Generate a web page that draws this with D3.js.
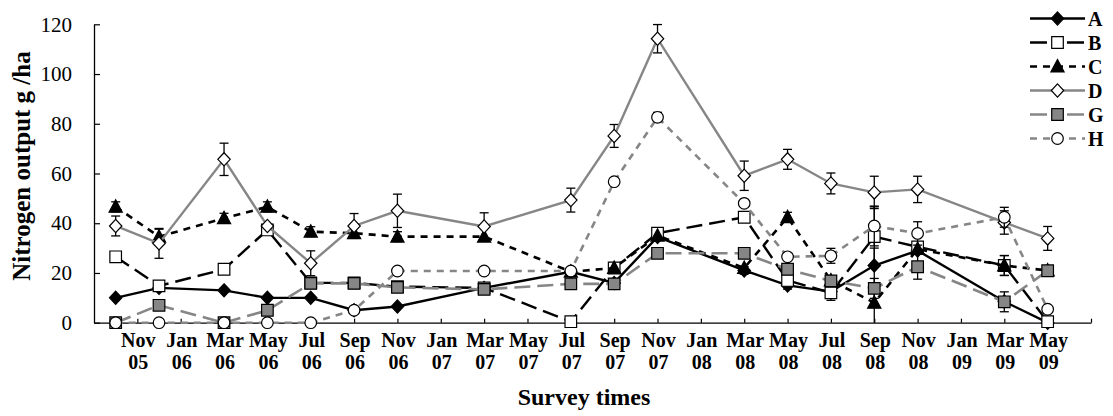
<!DOCTYPE html>
<html>
<head>
<meta charset="utf-8">
<script src="https://cdn.jsdelivr.net/npm/d3@7"></script>
<style>
  html, body { margin: 0; padding: 0; background: #fff; }
  svg { display: block; }
  text { font-family: "Liberation Serif", "Times New Roman", serif; fill: #000; }
</style>
</head>
<body>
<svg id="chart" width="1113" height="416"></svg>
<script>
// Survey dates (year-month) at which nitrogen output was measured
const surveyDates = ["2005-10", "2005-12", "2006-03", "2006-05", "2006-07", "2006-09",
  "2006-11", "2007-03", "2007-07", "2007-09", "2007-11", "2008-03", "2008-05",
  "2008-07", "2008-09", "2008-11", "2009-03", "2009-05"];

// Axis tick labels (every second month)
const tickMonths = ["Nov", "Jan", "Mar", "May", "Jul", "Sep", "Nov", "Jan", "Mar", "May", "Jul",
  "Sep", "Nov", "Jan", "Mar", "May", "Jul", "Sep", "Nov", "Jan", "Mar", "May"];
const tickYears = ["05", "06", "06", "06", "06", "06", "06", "07", "07", "07", "07",
  "07", "07", "08", "08", "08", "08", "08", "08", "09", "09", "09"];
const yTicks = [0, 20, 40, 60, 80, 100, 120];

const seriesNames = ["A", "B", "C", "D", "G", "H"];

// Nitrogen output (g/ha) per site and survey
const valuesA = [10, 14, 13, 10, 10, 5, 6.5, 14, 20.5, 16, 34.5, 21, 15, 12.5, 23, 29, 8.5, 0];
const valuesB = [26.5, 14.8, 21.5, 37.3, 16, 16, 14.5, 14, 0.4, 22, 36, 42.4, 17, 12, 34.6, 30.5, 23, 0.4];
const valuesC = [46.6, 34.6, 42, 46.6, 36.6, 36, 34.6, 34.6, 20.5, 22, 35, 22, 42.4, 17, 8, 29.6, 23, 21];
const valuesD = [38.9, 31.9, 65.7, 38.9, 23.9, 38.9, 45, 38.7, 49.3, 75.1, 114.2, 59.1, 65.7, 56, 52.4, 53.6, 40.3, 33.9];
const valuesG = [0, 7, 0, 5, 15.8, 15.8, 14.2, 13.4, 15.6, 15.6, 27.9, 27.9, 21.5, 16.8, 13.8, 22.5, 8.4, 20.9];
const valuesH = [0, 0, 0, 0, 0, 5, 20.8, 20.8, 20.8, 56.7, 82.6, 48, 26.5, 26.9, 38.9, 35.9, 42.4, 5.4];

// Standard errors
const errA = [0, 0, 0, 0, 0, 0, 0, 0, 0, 1.5, 0, 1.5, 1.5, 2, 7, 0, 0, 0];
const errB = [0, 0, 0, 0, 0, 0, 0, 0, 0, 2, 1.5, 0, 0, 3, 12, 0, 4, 0];
const errC = [2, 3, 2, 2, 2, 0, 2, 0, 0, 0, 0, 0, 2, 0, 8, 0, 4, 0];
const errD = [4, 6, 6.5, 0, 5, 5, 6.7, 5.5, 4.8, 4.6, 5.7, 5.9, 4, 4.2, 6.5, 5.3, 4.7, 4.8];
const errG = [0, 0, 0, 0, 2, 0, 2, 2, 0, 0, 0, 0, 0, 0, 4, 5, 4, 1.5];
const errH = [0, 0, 0, 0, 0, 0, 0, 0, 0, 0, 2, 0, 0, 3, 8, 4.7, 4, 0];

const seriesValues = [valuesA, valuesB, valuesC, valuesD, valuesG, valuesH];
const seriesErrors = [errA, errB, errC, errD, errG, errH];

// ---- drawing ----
const GREY = "#868686";
const styles = {
  A: { stroke: "#000", width: 2.4, dash: null, marker: "diamond", fill: "#000" },
  B: { stroke: "#000", width: 2.4, dash: "16,7", marker: "square", fill: "#fff" },
  C: { stroke: "#000", width: 2.6, dash: "7,6", marker: "triangle", fill: "#000" },
  D: { stroke: GREY, width: 2.4, dash: null, marker: "diamond", fill: "#fff" },
  G: { stroke: GREY, width: 2.6, dash: "16,7", marker: "square", fill: GREY },
  H: { stroke: GREY, width: 2.6, dash: "7,6", marker: "circle", fill: "#fff" }
};

// months counted from Sep 2005, where the axis starts
function monthIndex(s) {
  const [yr, m] = s.split("-").map(Number);
  return (yr - 2005) * 12 + (m - 9);
}

const svg = d3.select("#chart");
const x = d3.scaleLinear().domain([0, 46]).range([94, 1091]);
const y = d3.scaleLinear().domain([0, 120]).range([322.7, 24.3]);

function markerPath(kind) {
  switch (kind) {
    case "diamond": return "M0,-6.6L6.2,0L0,6.6L-6.2,0Z";
    case "square": return "M-5.8,-5.8H5.8V5.8H-5.8Z";
    case "triangle": return "M0,-7L6.6,5.4H-6.6Z";
    case "circle": return d3.arc()({ innerRadius: 0, outerRadius: 5.8, startAngle: 0, endAngle: 2 * Math.PI });
  }
}

// y axis (ticks point inward)
const yAxis = d3.axisLeft(y).tickValues(yTicks).tickSizeInner(-6).tickSizeOuter(0).tickPadding(22);
const gy = svg.append("g").attr("transform", `translate(${x(0)},0)`).call(yAxis);
gy.select(".domain").attr("stroke", "#000").attr("stroke-width", 1.3);
gy.selectAll(".tick line").attr("stroke", "#000").attr("stroke-width", 1.2);
gy.selectAll(".tick text").attr("font-size", 21).attr("font-family", "Liberation Serif").attr("fill", "#000");

// x axis: one tick every second month, labels month / year
const tickVals = d3.range(2, 47, 2);
const xAxis = d3.axisBottom(x).tickValues(tickVals).tickSizeInner(-4).tickSizeOuter(0)
  .tickFormat(() => "");
const gx = svg.append("g").attr("transform", `translate(0,${y(0)})`).call(xAxis);
gx.select(".domain").attr("stroke", "#000").attr("stroke-width", 1.3);
gx.selectAll(".tick line").attr("stroke", "#000").attr("stroke-width", 1.2);
gx.selectAll(".tick text").remove();
const labelG = svg.append("g").attr("font-weight", "bold").attr("font-size", 20).attr("text-anchor", "middle");
tickMonths.forEach((m, i) => {
  const t = labelG.append("text");
  t.append("tspan").attr("x", x(tickVals[i]) + 1).attr("y", 347).text(m);
  t.append("tspan").attr("x", x(tickVals[i]) + 1).attr("y", 369).text(tickYears[i]);
});

// axis titles
svg.append("text").attr("x", 584).attr("y", 405).attr("text-anchor", "middle")
  .attr("font-weight", "bold").attr("font-size", 24).text("Survey times");
svg.append("text").attr("transform", "translate(30,166) rotate(-90)").attr("text-anchor", "middle")
  .attr("font-weight", "bold").attr("font-size", 25).text("Nitrogen output g /ha");

// series
const line = d3.line().x(d => x(d.m)).y(d => y(d.v));
seriesNames.forEach((name, si) => {
  const st = styles[name];
  const pts = surveyDates.map((d, i) => ({ m: monthIndex(d), v: seriesValues[si][i], e: seriesErrors[si][i] }));
  const g = svg.append("g").attr("class", "series-" + name);

  // error bars
  const eb = g.selectAll(".err").data(pts.filter(p => p.e > 0)).join("g").attr("class", "err")
    .attr("stroke", "#000").attr("stroke-width", 1.3);
  eb.append("line").attr("x1", p => x(p.m)).attr("x2", p => x(p.m))
    .attr("y1", p => y(p.v + p.e)).attr("y2", p => y(Math.max(0, p.v - p.e)));
  eb.append("line").attr("x1", p => x(p.m) - 4.5).attr("x2", p => x(p.m) + 4.5)
    .attr("y1", p => y(p.v + p.e)).attr("y2", p => y(p.v + p.e));
  eb.filter(p => p.v - p.e > 0).append("line").attr("x1", p => x(p.m) - 4.5).attr("x2", p => x(p.m) + 4.5)
    .attr("y1", p => y(p.v - p.e)).attr("y2", p => y(p.v - p.e));

  g.append("path").datum(pts).attr("d", line).attr("fill", "none")
    .attr("stroke", st.stroke).attr("stroke-width", st.width)
    .attr("stroke-dasharray", st.dash);

  g.selectAll(".mk").data(pts).join("path").attr("class", "mk")
    .attr("transform", p => `translate(${x(p.m)},${y(p.v)})`)
    .attr("d", markerPath(st.marker)).attr("fill", st.fill)
    .attr("stroke", "#000").attr("stroke-width", 1.2);
});

// legend
const legend = svg.append("g");
seriesNames.forEach((name, i) => {
  const st = styles[name];
  const ly = 18.5 + i * 24;
  legend.append("line").attr("x1", 1030).attr("x2", 1085).attr("y1", ly).attr("y2", ly)
    .attr("stroke", st.stroke).attr("stroke-width", st.width)
    .attr("stroke-dasharray", st.dash === "7,6" ? "7,6" : (st.dash ? "17,20" : null));
  legend.append("path").attr("transform", `translate(1057.5,${ly})`).attr("d", markerPath(st.marker))
    .attr("fill", st.fill).attr("stroke", "#000").attr("stroke-width", 1.2);
  legend.append("text").attr("x", 1088).attr("y", ly + 7).attr("font-weight", "bold")
    .attr("font-size", 20).text(name);
});
</script>
</body>
</html>
